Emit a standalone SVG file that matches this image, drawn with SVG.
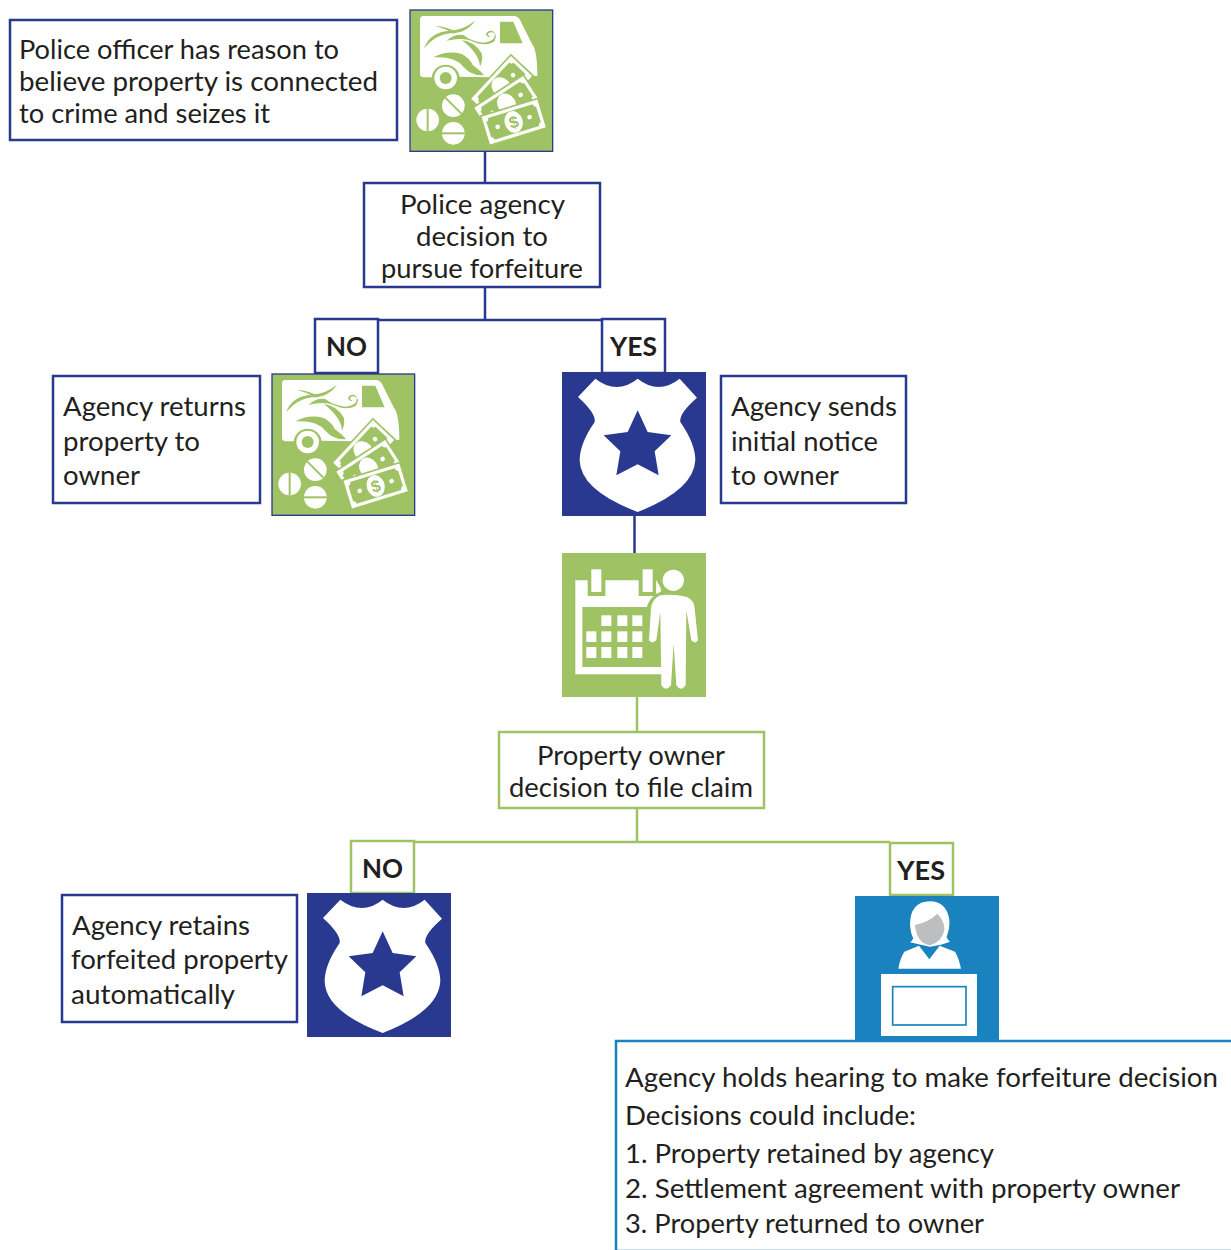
<svg xmlns="http://www.w3.org/2000/svg" xmlns:xlink="http://www.w3.org/1999/xlink" width="1231" height="1250" viewBox="0 0 1231 1250">
<style>
text{font-family:"Lato","Open Sans","Liberation Sans",sans-serif;font-size:26.5px;fill:#231f20}
.b{font-weight:700;font-size:27px}
.nb{fill:#fff;stroke:#2a3990;stroke-width:2.5}
.gb{fill:#fff;stroke:#9fc364;stroke-width:2.5}
.bb{fill:#fff;stroke:#1a83bf;stroke-width:2.5}
.cn{fill:none;stroke:#2a3990;stroke-width:2.5}
.cg{fill:none;stroke:#9fc364;stroke-width:2.5}
.w{fill:#fff}.g{fill:#9fc364}
</style>
<defs>
<g id="bill">
<rect x="-90" y="-46" width="180" height="92" fill="#fff" stroke="#9fc364" stroke-width="5"/>
<path class="g" d="M-78-24Q-70-25-70-34H70Q70-25 78-24V24Q70 25 70 34H-70Q-70 25-78 24Z"/>
<ellipse class="w" cx="0" cy="0" rx="27" ry="33"/>
<circle class="w" cx="-50" cy="0" r="7"/><circle class="w" cx="50" cy="0" r="7"/>
</g>
<g id="van" transform="scale(.3333) translate(-30,-30)">
<rect x="30" y="30" width="428" height="424" fill="#9fc364" stroke="#2a3990" stroke-width="4"/>
<path class="w" d="M70 48L345 48Q358 50 365 70L395 130Q412 150 412 228L375 228L285 232L170 230L95 232L70 232Q60 230 60 222L60 60Q60 48 70 48Z"/>
<path class="g" d="M300 65L340 65L368 130L300 130Z"/>
<circle class="g" cx="137" cy="236" r="42"/><circle class="g" cx="328" cy="232" r="42"/>
<circle class="w" cx="137" cy="234" r="34"/><circle class="g" cx="137" cy="234" r="18"/>
<path class="g" d="M72 145Q90 95 150 92Q190 90 225 62Q200 100 150 100Q105 105 72 145Z"/>
<path class="g" d="M105 78Q140 78 170 98L160 100Q135 85 105 78Z"/>
<path class="g" d="M140 122Q165 100 190 105Q215 125 250 128Q285 125 285 103Q278 92 265 100Q262 108 272 110Q262 114 258 103Q262 90 278 93Q295 105 282 125Q255 140 220 125Q190 110 140 122Z"/>
<path class="g" d="M185 120Q225 125 245 160Q250 180 240 200Q238 160 185 120Z"/>
<path class="g" d="M100 172Q140 150 185 162Q210 175 218 195Q245 215 252 226Q215 228 190 200Q165 168 100 172Z"/>
<g transform="translate(305,262) rotate(-47)"><use href="#bill"/></g>
<g transform="translate(320,312) rotate(-33)"><use href="#bill"/></g>
<g transform="translate(341,366) rotate(-17)"><use href="#bill"/>
<text x="0" y="18" text-anchor="middle" style="font-family:'Liberation Sans',sans-serif;font-size:50px;font-weight:700;fill:#9fc364">$</text></g>
<circle class="w" cx="83" cy="360" r="34"/><path d="M83 326V394" stroke="#9fc364" stroke-width="6"/>
<circle class="w" cx="160" cy="317" r="34"/><path d="M136 293L184 341" stroke="#9fc364" stroke-width="6"/>
<circle class="w" cx="160" cy="400" r="34"/><path d="M126 400H194" stroke="#9fc364" stroke-width="6"/>
</g>
<g id="badge" transform="scale(.3333) translate(-35,-185)">
<rect x="35" y="185" width="432" height="432" fill="#2a3990"/>
<path class="w" d="M135 205Q200 255 262 205Q325 255 388 205L440 262Q385 310 390 335Q435 400 435 450Q430 540 262 605Q90 540 88 450Q88 400 133 335Q138 310 83 260Z"/>
<path fill="#2a3990" d="M262 300L292 365L363 375L313 423L325 495L262 462L198 495L210 423L160 375L232 365Z"/>
</g>
</defs>

<g id="connectors">
<path class="cn" d="M485 151V183M485 287V320M378 320H602M634.500 516V553"/>
<path class="cg" d="M637 697V732M637 808V842M414 842H890"/>
</g>

<g id="n1"><rect class="nb" x="10" y="20" width="387" height="120"/>
<text x="19" y="59" textLength="320" lengthAdjust="spacingAndGlyphs">Police officer has reason to</text>
<text x="19" y="91" textLength="359" lengthAdjust="spacingAndGlyphs">believe property is connected</text>
<text x="19" y="123" textLength="251" lengthAdjust="spacingAndGlyphs">to crime and seizes it</text></g>
<g id="icon1" transform="translate(410,10)"><use href="#van"/></g>

<g id="n2"><rect class="nb" x="364" y="183" width="236" height="104"/>
<text x="400" y="214" textLength="165" lengthAdjust="spacingAndGlyphs">Police agency</text>
<text x="416" y="246" textLength="132" lengthAdjust="spacingAndGlyphs">decision to</text>
<text x="381" y="278" textLength="202" lengthAdjust="spacingAndGlyphs">pursue forfeiture</text></g>

<g id="no1"><rect class="nb" x="315" y="319" width="63" height="54"/>
<text class="b" x="326" y="356" textLength="41" lengthAdjust="spacingAndGlyphs">NO</text></g>
<g id="yes1"><rect class="nb" x="602" y="319" width="63" height="54"/>
<text class="b" x="610" y="356" textLength="47" lengthAdjust="spacingAndGlyphs">YES</text></g>

<g id="n3"><rect class="nb" x="53" y="376" width="207" height="127"/>
<text x="63" y="416" textLength="183" lengthAdjust="spacingAndGlyphs">Agency returns</text>
<text x="63" y="451" textLength="137" lengthAdjust="spacingAndGlyphs">property to</text>
<text x="63" y="485" textLength="77" lengthAdjust="spacingAndGlyphs">owner</text></g>
<g id="icon2" transform="translate(272,374)"><use href="#van"/></g>

<g id="icon3" transform="translate(562,372)"><use href="#badge"/></g>
<g id="n4"><rect class="nb" x="721" y="376" width="185" height="127"/>
<text x="731" y="416" textLength="166" lengthAdjust="spacingAndGlyphs">Agency sends</text>
<text x="731" y="451" textLength="147" lengthAdjust="spacingAndGlyphs">initial notice</text>
<text x="731" y="485" textLength="108" lengthAdjust="spacingAndGlyphs">to owner</text></g>

<g id="icon4" transform="translate(562,553) scale(.3333) translate(-35,-23)">
<rect x="35" y="23" width="432" height="432" fill="#9fc364"/>
<path class="w" d="M75 105H112V152H165V105H265V152H318V105L332 130V387H75ZM96 185V365H332V185Z" fill-rule="evenodd"/>
<rect class="w" x="123" y="72" width="30" height="68"/><rect class="w" x="277" y="72" width="30" height="68"/>
<path class="g" d="M288 190Q300 145 345 135H460V450H332V365H290Z"/>
<path class="w" d="M318 105L330 130L318 142Z"/>
<circle class="w" cx="369" cy="105" r="32"/>
<path class="w" d="M330 150Q369 145 410 155Q432 165 433 190L443 285Q435 298 423 285L408 195L406 420Q392 440 378 420L370 295L362 420Q347 440 333 420L330 200L318 285Q305 298 296 285L302 190Q305 160 330 150Z"/>
<g class="w">
<rect x="153" y="210" width="30" height="32"/><rect x="201" y="210" width="30" height="32"/><rect x="246" y="210" width="30" height="32"/>
<rect x="108" y="258" width="30" height="32"/><rect x="153" y="258" width="30" height="32"/><rect x="201" y="258" width="30" height="32"/><rect x="246" y="258" width="30" height="32"/>
<rect x="108" y="305" width="30" height="33"/><rect x="153" y="305" width="30" height="33"/><rect x="201" y="305" width="30" height="33"/><rect x="246" y="305" width="30" height="33"/>
</g></g>

<g id="n5"><rect class="gb" x="499" y="732" width="265" height="76"/>
<text x="537" y="765" textLength="188" lengthAdjust="spacingAndGlyphs">Property owner</text>
<text x="509" y="797" textLength="244" lengthAdjust="spacingAndGlyphs">decision to file claim</text></g>

<g id="no2"><rect class="gb" x="351" y="841" width="63" height="52"/>
<text class="b" x="362" y="878" textLength="41" lengthAdjust="spacingAndGlyphs">NO</text></g>
<g id="yes2"><rect class="gb" x="890" y="843" width="63" height="52"/>
<text class="b" x="897" y="880" textLength="48" lengthAdjust="spacingAndGlyphs">YES</text></g>

<g id="n6"><rect class="nb" x="62" y="895" width="235" height="127"/>
<text x="72" y="935" textLength="178" lengthAdjust="spacingAndGlyphs">Agency retains</text>
<text x="71" y="969" textLength="217" lengthAdjust="spacingAndGlyphs">forfeited property</text>
<text x="71" y="1004" textLength="164" lengthAdjust="spacingAndGlyphs">automatically</text></g>
<g id="icon5" transform="translate(307,893)"><use href="#badge"/></g>

<g id="icon6" transform="translate(855,896) scale(.3333) translate(-30,-183)">
<rect x="30" y="183" width="432" height="432" fill="#1a83bf"/>
<path class="w" d="M255 199Q195 200 195 270Q198 300 205 310Q200 320 195 322Q230 330 255 335Q290 330 315 320Q305 310 305 305Q315 280 313 255Q305 200 255 199Z"/>
<path fill="#bcbec0" d="M210 270Q250 262 277 236Q300 260 298 285Q292 320 255 331Q215 325 210 270Z"/>
<path class="w" d="M222 332L253 373L284 332L330 350Q342 370 348 401H160Q165 370 178 350Z"/>
<rect class="w" x="108" y="417" width="288" height="186"/>
<rect x="143" y="455" width="220" height="115" fill="#fff" stroke="#1a83bf" stroke-width="5"/>
</g>

<g id="n7"><path class="bb" d="M1232 1041H616V1251H1232"/>
<text x="625" y="1087" textLength="593" lengthAdjust="spacingAndGlyphs">Agency holds hearing to make forfeiture decision</text>
<text x="625" y="1125" textLength="291" lengthAdjust="spacingAndGlyphs">Decisions could include:</text>
<text x="625" y="1163" textLength="369" lengthAdjust="spacingAndGlyphs">1. Property retained by agency</text>
<text x="625" y="1198" textLength="555" lengthAdjust="spacingAndGlyphs">2. Settlement agreement with property owner</text>
<text x="625" y="1233" textLength="359" lengthAdjust="spacingAndGlyphs">3. Property returned to owner</text></g>
</svg>
